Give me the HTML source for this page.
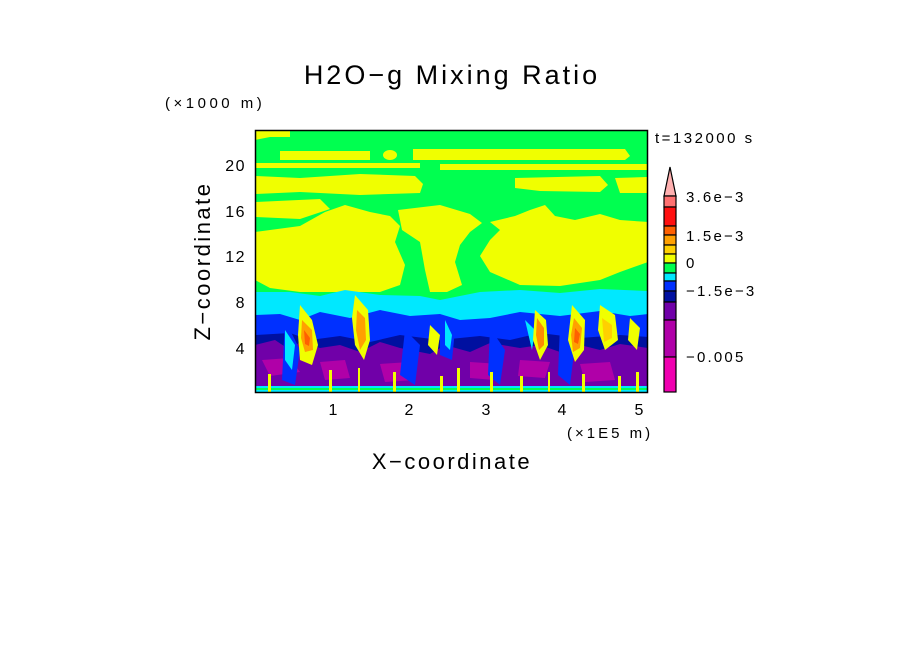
<!DOCTYPE html>
<html><head><meta charset="utf-8"><style>
html,body{margin:0;padding:0;background:#fff;}
svg{display:block;font-family:"Liberation Sans",sans-serif;}
</style></head><body>
<svg width="904" height="654" viewBox="0 0 904 654" xmlns="http://www.w3.org/2000/svg">
<defs><clipPath id="pc"><rect x="256" y="131" width="391" height="261"/></clipPath></defs>
<g clip-path="url(#pc)">
<rect x="255" y="130" width="393" height="263" fill="#00ff50"/>
<path d="M255,131H290V137H270L255,140Z" fill="#f0ff00"/>
<path d="M280,151H370V160H280Z" fill="#f0ff00"/>
<ellipse cx="390" cy="155" rx="7" ry="5" fill="#f0ff00"/>
<path d="M413,149H625L630,156L625,160H413Z" fill="#f0ff00"/>
<path d="M255,163H420V168H255Z M440,164H648V170H440Z" fill="#f0ff00"/>
<path d="M255,176L300,178L360,174L415,176L423,184L420,193L360,195L300,192L255,194Z" fill="#f0ff00"/>
<path d="M515,178L600,176L608,185L600,192L540,191L515,188Z M615,178L648,177V193L620,193Z" fill="#f0ff00"/>
<path d="M255,202L320,199L330,209L300,219L255,217Z" fill="#f0ff00"/>
<path d="M255,232L300,226L325,212L345,205L370,212L390,216L400,226L395,242L405,265L400,285L380,292L300,292L270,288L255,280Z" fill="#f0ff00"/>
<path d="M398,210L440,205L470,214L482,223L470,232L460,245L455,262L462,285L447,292L430,292L425,270L420,242L402,230Z" fill="#f0ff00"/>
<path d="M490,222L515,216L530,210L545,205L555,216L575,220L600,214L620,220L648,222V262L620,272L600,280L560,286L520,285L490,272L480,256L490,240L500,230Z" fill="#f0ff00"/>
<path d="M255,292L290,292L320,296L345,290L380,295L420,296L440,300L480,292L520,290L560,293L600,289L648,291V392H255Z" fill="#00e8ff"/>
<path d="M255,315L280,314L300,320L320,312L350,318L380,310L410,316L440,314L460,320L490,318L520,312L560,316L600,311L630,316L648,314V392H255Z" fill="#0030ff"/>
<path d="M255,335L290,333L310,340L340,336L370,342L400,335L440,340L480,336L510,340L540,333L580,338L620,335L648,337V392H255Z" fill="#0010a0"/>
<path d="M255,345L275,340L290,350L300,342L320,348L340,345L360,352L380,342L400,348L430,354L445,345L470,352L490,343L520,348L540,345L560,352L580,345L600,350L620,344L648,348V392H255Z" fill="#7000a8"/>
<path d="M262,360L290,358L300,372L270,376Z M320,362L345,360L350,378L325,380Z M380,364L410,362L415,380L385,382Z M470,362L500,364L495,380L470,378Z M520,360L550,362L545,378L518,376Z M580,364L610,362L615,380L585,382Z" fill="#b000a8"/>
<path d="M285,320L300,350L295,385L282,380Z M405,330L420,345L415,385L400,375Z M490,328L505,350L500,385L488,375Z M560,325L575,345L570,385L558,375Z M440,315L455,330L452,360L440,355Z" fill="#0030ff"/>
<path d="M285,330L295,345L292,370L285,360Z M445,320L452,335L450,350L445,345Z M525,320L535,330L532,350Z" fill="#00e8ff"/>
<path d="M300,305L312,320L318,345L312,365L300,360L298,335Z" fill="#f0ff00"/>
<path d="M302,320L312,330L313,350L305,352L301,338Z" fill="#ffa000"/>
<path d="M304,330L310,338L309,346L305,344Z" fill="#ff6000"/>
<path d="M355,295L368,310L370,340L364,360L355,345L352,318Z" fill="#f0ff00"/>
<path d="M357,310L365,318L366,340L360,350L356,330Z" fill="#ffa000"/>
<path d="M535,310L546,320L548,345L540,360L533,340Z" fill="#f0ff00"/>
<path d="M537,318L544,328L544,345L539,350L536,335Z" fill="#ff8c00"/>
<path d="M572,305L585,320L584,350L575,362L568,340Z" fill="#f0ff00"/>
<path d="M574,318L582,328L580,348L573,352L571,335Z" fill="#ffa000"/>
<path d="M575,328L580,334L578,344L574,342Z" fill="#ff6000"/>
<path d="M600,305L615,315L618,340L605,350L598,330Z" fill="#f0ff00"/>
<path d="M602,318L612,325L612,338L604,342Z" fill="#ffd000"/>
<path d="M430,325L440,335L437,355L428,345Z M630,318L640,328L637,350L628,340Z" fill="#f0ff00"/>
<rect x="255" y="386" width="393" height="7" fill="#00e8ff"/>
<path d="M255,388H648V390H255Z" fill="#00ff50"/>
<g fill="#f0ff00">
<rect x="268" y="374" width="3" height="18"/><rect x="329" y="370" width="3" height="22"/><rect x="358" y="368" width="2" height="24"/>
<rect x="393" y="372" width="3" height="20"/><rect x="440" y="376" width="3" height="16"/><rect x="457" y="368" width="3" height="24"/>
<rect x="490" y="372" width="3" height="20"/><rect x="520" y="376" width="3" height="16"/><rect x="548" y="372" width="2" height="20"/>
<rect x="582" y="374" width="3" height="18"/><rect x="618" y="376" width="3" height="16"/><rect x="636" y="372" width="3" height="20"/>
</g>
</g>
<rect x="255.5" y="130.5" width="392" height="262" fill="none" stroke="#000" stroke-width="1.5"/>
<text x="452" y="84" font-size="27" text-anchor="middle" letter-spacing="3">H2O−g Mixing Ratio</text>
<text x="165" y="108" font-size="15" letter-spacing="3.5">(×1000 m)</text>
<g font-size="16" text-anchor="end" letter-spacing="1.5">
<text x="246" y="171">20</text><text x="246" y="217">16</text><text x="246" y="262">12</text><text x="246" y="308">8</text><text x="246" y="354">4</text>
</g>
<g font-size="16" text-anchor="middle">
<text x="333" y="415">1</text><text x="409" y="415">2</text><text x="486" y="415">3</text><text x="562" y="415">4</text><text x="639" y="415">5</text>
</g>
<text x="567" y="438" font-size="15" letter-spacing="3">(×1E5 m)</text>
<text x="452" y="469" font-size="22" text-anchor="middle" letter-spacing="2.5">X−coordinate</text>
<text transform="translate(210,261) rotate(-90)" font-size="22" text-anchor="middle" letter-spacing="2.5">Z−coordinate</text>
<text x="655" y="143" font-size="15" letter-spacing="2.5">t=132000 s</text>
<g stroke="#000" stroke-width="1.2">
<path d="M670,167L676,196H664Z" fill="#ffb0b0"/>
<rect x="664" y="196" width="12" height="11" fill="#ff7070"/>
<rect x="664" y="207" width="12" height="19" fill="#ff1010"/>
<rect x="664" y="226" width="12" height="9" fill="#ff6000"/>
<rect x="664" y="235" width="12" height="10" fill="#ffa000"/>
<rect x="664" y="245" width="12" height="9" fill="#ffd000"/>
<rect x="664" y="254" width="12" height="9" fill="#f0ff00"/>
<rect x="664" y="263" width="12" height="10" fill="#00ff50"/>
<rect x="664" y="273" width="12" height="8" fill="#00e8ff"/>
<rect x="664" y="281" width="12" height="10" fill="#0030ff"/>
<rect x="664" y="291" width="12" height="11" fill="#0010a0"/>
<rect x="664" y="302" width="12" height="18" fill="#7000a8"/>
<rect x="664" y="320" width="12" height="37" fill="#b000a8"/>
<rect x="664" y="357" width="12" height="35" fill="#f000b0"/>
</g>
<g font-size="15" letter-spacing="2.2">
<text x="686" y="202">3.6e−3</text><text x="686" y="241">1.5e−3</text><text x="686" y="268">0</text><text x="686" y="296">−1.5e−3</text><text x="686" y="362">−0.005</text>
</g>
</svg>
</body></html>
